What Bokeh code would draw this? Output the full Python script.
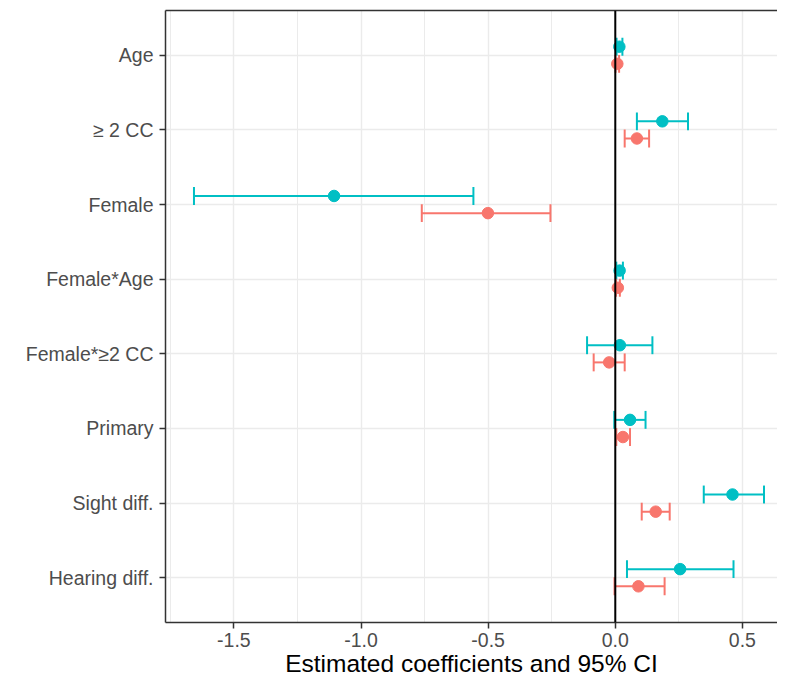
from bokeh.plotting import figure
from bokeh.models import Range1d, FixedTicker, Span, ColumnDataSource, LinearAxis
from bokeh.embed import file_html
from bokeh.resources import INLINE

categories = ["Age", "\u2265 2 CC", "Female", "Female*Age", "Female*\u22652 CC",
              "Primary", "Sight diff.", "Hearing diff."]

# series shown in teal
teal_est = [0.016, 0.185, -1.106, 0.017, 0.018, 0.058, 0.461, 0.255]
teal_lo = [0.005, 0.085, -1.657, 0.004, -0.111, -0.004, 0.348, 0.046]
teal_hi = [0.028, 0.286, -0.558, 0.030, 0.146, 0.119, 0.585, 0.465]

# series shown in salmon
salmon_est = [0.008, 0.085, -0.501, 0.010, -0.024, 0.030, 0.159, 0.091]
salmon_lo = [0.001, 0.037, -0.761, 0.003, -0.085, 0.004, 0.104, -0.003]
salmon_hi = [0.015, 0.133, -0.255, 0.018, 0.037, 0.058, 0.214, 0.194]

x_ticks = [-1.5, -1.0, -0.5, 0.0, 0.5]
x_tick_labels = ["-1.5", "-1.0", "-0.5", "0.0", "0.5"]
x_minor = [-1.75, -1.25, -0.75, -0.25, 0.25]

TEAL = "#00BFC4"
SALMON = "#F8766D"
DODGE = 0.115
CAP = 0.12
FONT = "Liberation Sans"
BORDER = "#333333"

p = figure(width=777, height=680,
           x_range=Range1d(-1.769, 0.638), y_range=Range1d(8.6, 0.4),
           output_backend="svg", toolbar_location=None,
           min_border_left=165, min_border_right=0, min_border_top=10,
           min_border_bottom=58)

p.background_fill_color = "white"
p.border_fill_color = "white"
p.outline_line_color = None

pos = list(range(1, len(categories) + 1))


def draw(est, lo, hi, color, off):
    y = [v + off for v in pos]
    src = ColumnDataSource(dict(est=est, lo=lo, hi=hi, y=y,
                                ylo=[v - CAP for v in y], yhi=[v + CAP for v in y]))
    p.segment(x0="lo", x1="hi", y0="y", y1="y", source=src, line_color=color, line_width=2)
    p.segment(x0="lo", x1="lo", y0="ylo", y1="yhi", source=src, line_color=color, line_width=2)
    p.segment(x0="hi", x1="hi", y0="ylo", y1="yhi", source=src, line_color=color, line_width=2)
    p.scatter(x="est", y="y", source=src, size=11.5, fill_color=color, line_color=color)


draw(teal_est, teal_lo, teal_hi, TEAL, -DODGE)
draw(salmon_est, salmon_lo, salmon_hi, SALMON, DODGE)

p.add_layout(Span(location=0, dimension="height", line_color="black", line_width=2))

xa = p.below[0]
ya = p.left[0]

x_ticker = FixedTicker(ticks=x_ticks, minor_ticks=x_minor)
y_ticker = FixedTicker(ticks=pos, minor_ticks=[])
xa.ticker = x_ticker
ya.ticker = y_ticker
p.xgrid.ticker = x_ticker
p.ygrid.ticker = y_ticker
ya.major_label_overrides = {i: c for i, c in zip(pos, categories)}

# top border (panel continues past the right edge, as in the reference)
top_axis = LinearAxis(ticker=FixedTicker(ticks=[], minor_ticks=[]),
                      axis_line_color=BORDER, axis_line_width=1.5,
                      major_tick_line_color=None, minor_tick_line_color=None,
                      major_label_text_color=None)
p.add_layout(top_axis, "above")

for ax in (xa, ya):
    ax.axis_line_color = BORDER
    ax.axis_line_width = 1.5
    ax.major_tick_line_color = BORDER
    ax.major_tick_line_width = 1.5
    ax.major_tick_in = 0
    ax.major_tick_out = 6
    ax.minor_tick_line_color = None
    ax.major_label_text_font = FONT
    ax.major_label_text_font_size = "19.5px"
    ax.major_label_text_color = "#4D4D4D"
    ax.major_label_standoff = 6

xa.major_label_overrides = {t: l for t, l in zip(x_ticks, x_tick_labels)}
xa.major_label_standoff = 4
xa.axis_label = "Estimated coefficients and 95% CI"
xa.axis_label_text_font = FONT
xa.axis_label_text_font_size = "24.5px"
xa.axis_label_text_font_style = "normal"
xa.axis_label_text_color = "black"
xa.axis_label_standoff = 0

p.xgrid.grid_line_color = "#EBEBEB"
p.xgrid.grid_line_width = 1.4
p.xgrid.minor_grid_line_color = "#EBEBEB"
p.xgrid.minor_grid_line_width = 1.0
p.ygrid.grid_line_color = "#EBEBEB"
p.ygrid.grid_line_width = 1.4

open("out.html", "w").write(file_html(p, INLINE))
